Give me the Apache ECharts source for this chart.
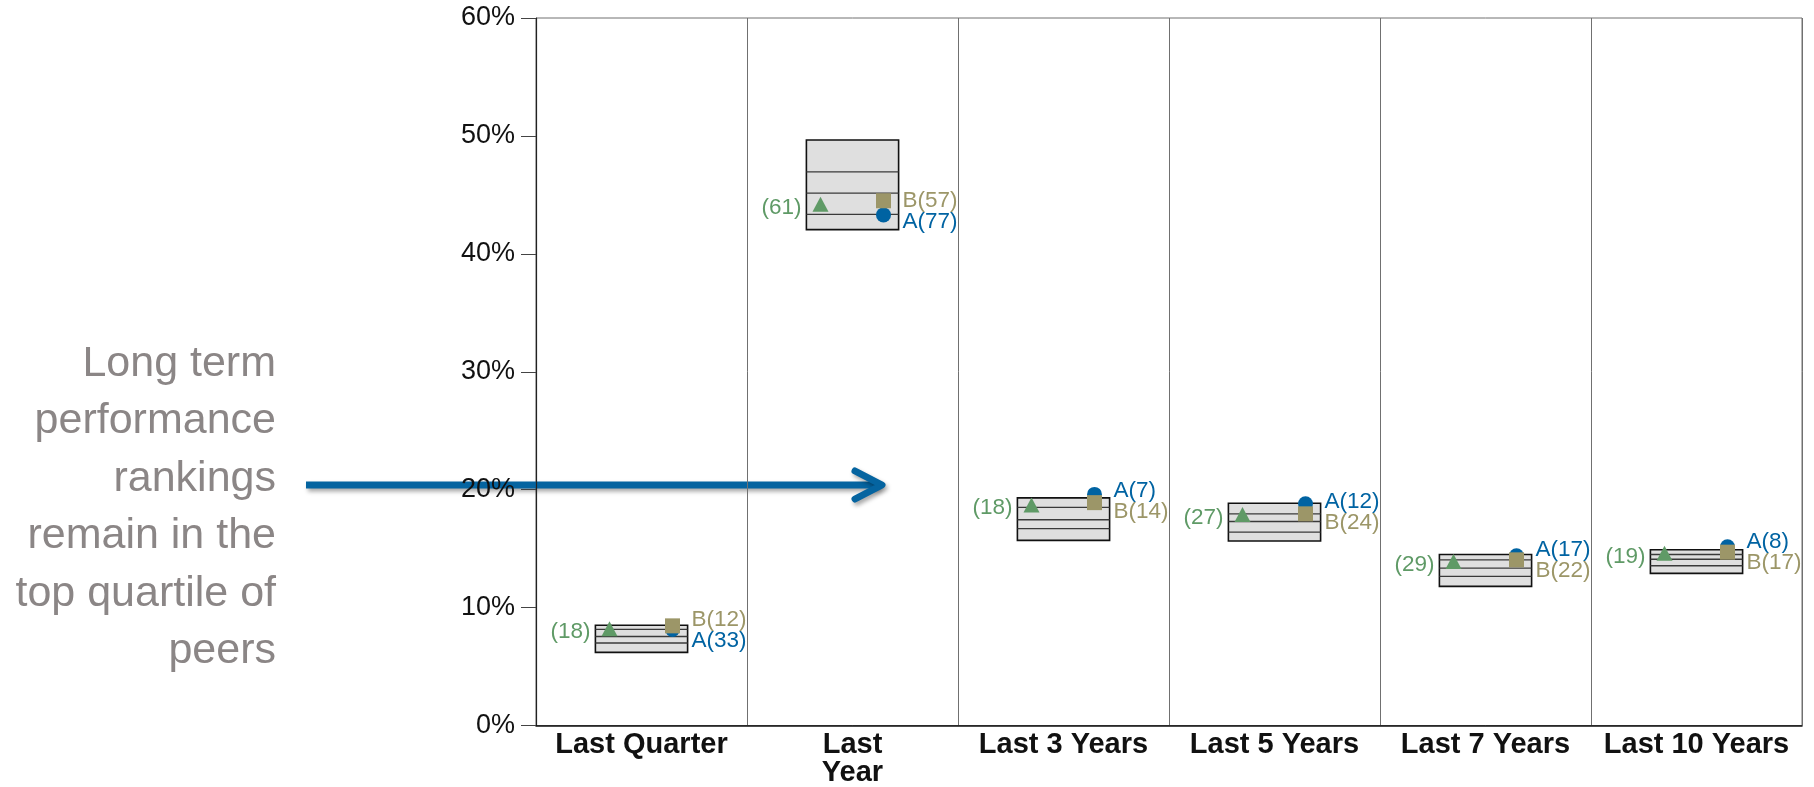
<!DOCTYPE html>
<html>
<head>
<meta charset="utf-8">
<script src="https://cdn.jsdelivr.net/npm/echarts@6/dist/echarts.min.js"></script>
<style>
  html, body { margin: 0; padding: 0; background: #ffffff; }
  #chart { width: 1814px; height: 787px; }
</style>
</head>
<body>
<div id="chart"></div>
<script>
// Periods on the horizontal axis
const periods = ['Last Quarter', 'Last\nYear', 'Last 3 Years', 'Last 5 Years', 'Last 7 Years', 'Last 10 Years'];

// Peer universe return ranges (%), from the top of the range down to the bottom
const peerTop    = [8.5, 49.65, 19.3, 18.85, 14.5, 14.9];
const peerUpper  = [8.15, 46.95, 18.5, 17.95, 14.05, 14.5];
const peerMedian = [7.55, 45.15, 17.45, 17.3, 13.35, 14.1];
const peerLower  = [7.0, 43.35, 16.7, 16.4, 12.65, 13.55];
const peerBottom = [6.2, 42.05, 15.7, 15.65, 11.8, 12.9];

// Benchmark return (%) and its percentile rank
const benchmark     = [8.2, 44.2, 18.7, 17.9, 13.9, 14.6];
const benchmarkRank = [18, 61, 18, 27, 29, 19];

// Portfolio A return (%) and rank
const fundA     = [8.15, 43.3, 19.6, 18.8, 14.4, 15.15];
const fundARank = [33, 77, 7, 12, 17, 8];

// Portfolio B return (%) and rank
const fundB     = [8.45, 44.5, 18.9, 17.95, 14.05, 14.7];
const fundBRank = [12, 57, 14, 24, 22, 17];

// Value axis ticks
const yMin = 0, yMax = 60, yStep = 10;

const FONT = "'Liberation Sans', Arial, Helvetica, sans-serif";
const GREEN = '#5f9a66';
const OLIVE = '#9c9668';
const BLUE = '#0063a2';
const BOX_FRAC = 0.437;      // box width as a share of the category band
const MARK_SHIFT_L = -32;    // benchmark marker sits left of centre
const MARK_SHIFT_R = 31;     // portfolio markers sit right of centre

const chart = echarts.init(document.getElementById('chart'), null, { renderer: 'canvas' });

// Floating peer range box split into quartile bands
function renderBox(params, api) {
  const i = api.value(0);
  const top = api.coord([i, api.value(1)]);
  const w = api.size([1, 0])[0] * BOX_FRAC;
  const x0 = top[0] - w / 2;
  const yBottom = api.coord([i, api.value(5)])[1];
  const children = [{
    type: 'rect',
    shape: { x: x0, y: top[1], width: w, height: yBottom - top[1] },
    style: { fill: '#dfdfdf', stroke: '#111111', lineWidth: 1.6 }
  }];
  [2, 3, 4].forEach(function (k) {
    const y = api.coord([i, api.value(k)])[1];
    children.push({
      type: 'line',
      shape: { x1: x0, y1: y, x2: x0 + w, y2: y },
      style: { stroke: '#3a3a3a', lineWidth: 1.4 }
    });
  });
  return { type: 'group', children: children };
}

// Rank labels next to the markers; the two portfolio labels are kept apart
function renderLabels(params, api) {
  const i = api.value(0);
  const ca = api.coord([i, api.value(1)]);
  const cb = api.coord([i, api.value(2)]);
  const ct = api.coord([i, api.value(3)]);
  const cx = ca[0];
  let ya = ca[1], yb = cb[1];
  const gap = 21;
  if (Math.abs(ya - yb) < gap) {
    const mid = (ya + yb) / 2;
    if (ya <= yb) { ya = mid - gap / 2; yb = mid + gap / 2; }
    else { yb = mid - gap / 2; ya = mid + gap / 2; }
  }
  const drop = 3;
  const font = '22.5px ' + FONT;
  return {
    type: 'group',
    children: [
      { type: 'text', x: cx + 50, y: ya + drop,
        style: { text: 'A(' + fundARank[i] + ')', fill: BLUE, font: font, align: 'left', verticalAlign: 'middle' } },
      { type: 'text', x: cx + 50, y: yb + drop,
        style: { text: 'B(' + fundBRank[i] + ')', fill: OLIVE, font: font, align: 'left', verticalAlign: 'middle' } },
      { type: 'text', x: cx - 51, y: ct[1] + drop,
        style: { text: '(' + benchmarkRank[i] + ')', fill: GREEN, font: font, align: 'right', verticalAlign: 'middle' } }
    ]
  };
}

const option = {
  backgroundColor: '#ffffff',
  animation: false,
  grid: {
    left: 536, right: 12, top: 18, bottom: 58,
    show: true, borderColor: '#707070', borderWidth: 1, backgroundColor: 'transparent'
  },
  xAxis: {
    type: 'category',
    data: periods,
    boundaryGap: true,
    axisLine: { show: true, lineStyle: { color: '#111111', width: 1.5 } },
    axisTick: { show: false },
    splitLine: { show: true, lineStyle: { color: '#707070', width: 1 } },
    axisLabel: {
      interval: 0, margin: 5,
      color: '#111111', fontFamily: FONT, fontWeight: 'bold', fontSize: 29, lineHeight: 28
    }
  },
  yAxis: {
    type: 'value',
    min: yMin, max: yMax, interval: yStep,
    axisLine: { show: true, lineStyle: { color: '#222222', width: 1.2 } },
    axisTick: { show: true, length: 15, lineStyle: { color: '#444444', width: 1 } },
    splitLine: { show: false },
    axisLabel: {
      formatter: '{value}%', margin: 21,
      color: '#111111', fontFamily: FONT, fontSize: 27
    }
  },
  series: [
    {
      name: 'Peer range',
      type: 'custom',
      renderItem: renderBox,
      encode: { x: 0, y: [1, 2, 3, 4, 5] },
      data: periods.map(function (p, i) {
        return [i, peerTop[i], peerUpper[i], peerMedian[i], peerLower[i], peerBottom[i]];
      }),
      z: 2
    },
    {
      name: 'Benchmark',
      type: 'scatter',
      data: benchmark,
      symbol: 'triangle',
      symbolSize: [16, 15],
      symbolOffset: [MARK_SHIFT_L, 0],
      itemStyle: { color: GREEN, opacity: 1 },
      z: 3
    },
    {
      name: 'A',
      type: 'scatter',
      data: fundA,
      symbol: 'circle',
      symbolSize: 15,
      symbolOffset: [MARK_SHIFT_R, 0],
      itemStyle: { color: BLUE, opacity: 1 },
      z: 3
    },
    {
      name: 'B',
      type: 'scatter',
      data: fundB,
      symbol: 'rect',
      symbolSize: 15,
      symbolOffset: [MARK_SHIFT_R, 0],
      itemStyle: { color: OLIVE, opacity: 1 },
      z: 4
    },
    {
      name: 'Ranks',
      type: 'custom',
      renderItem: renderLabels,
      encode: { x: 0, y: [1, 2, 3] },
      data: periods.map(function (p, i) { return [i, fundA[i], fundB[i], benchmark[i]]; }),
      z: 5
    }
  ],
  graphic: [
    {
      type: 'text',
      x: 276, y: 335,
      style: {
        text: 'Long term\nperformance\nrankings\nremain in the\ntop quartile of\npeers',
        font: '43px ' + FONT,
        lineHeight: 57.5,
        fill: '#8b8686',
        align: 'right',
        verticalAlign: 'top'
      }
    },
    {
      type: 'group',
      children: [
        {
          type: 'polyline',
          shape: { points: [[306, 485], [879, 485]] },
          style: {
            stroke: '#0564a0', lineWidth: 7, lineCap: 'butt', fill: null,
            shadowColor: 'rgba(0,0,0,0.35)', shadowBlur: 4, shadowOffsetX: 2, shadowOffsetY: 3
          }
        },
        {
          type: 'polyline',
          shape: { points: [[855, 471], [882, 485], [855, 499]] },
          style: {
            stroke: '#0564a0', lineWidth: 7, lineCap: 'round', lineJoin: 'round', fill: null,
            shadowColor: 'rgba(0,0,0,0.35)', shadowBlur: 4, shadowOffsetX: 2, shadowOffsetY: 3
          }
        }
      ]
    }
  ]
};

chart.setOption(option);
</script>
</body>
</html>
